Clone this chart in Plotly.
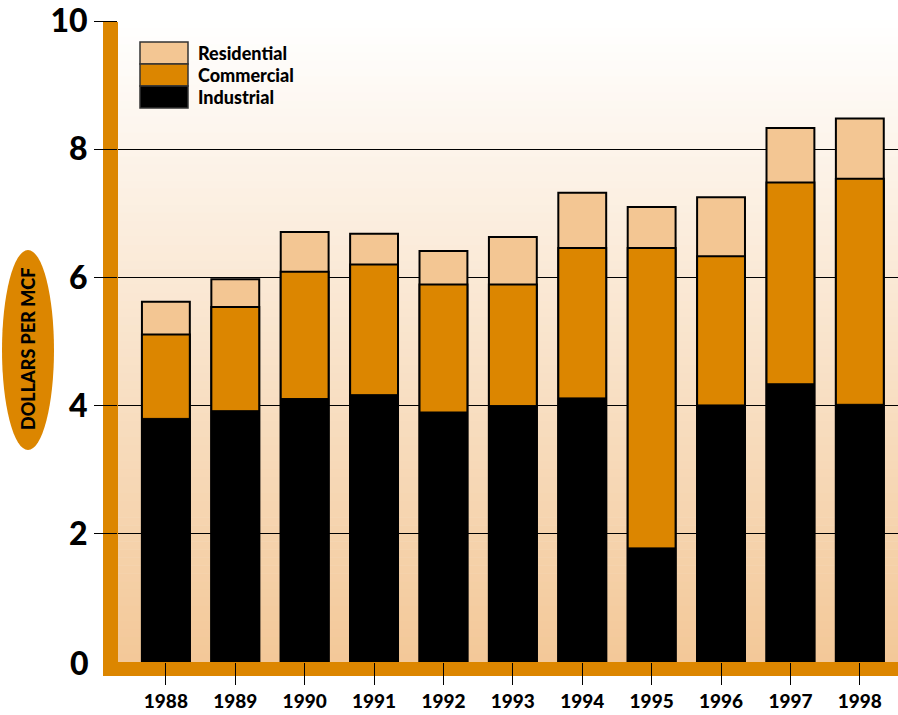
import plotly.graph_objects as go

years = ["1988", "1989", "1990", "1991", "1992", "1993", "1994", "1995", "1996", "1997", "1998"]
residential = [5.62, 5.97, 6.71, 6.68, 6.41, 6.63, 7.32, 7.10, 7.25, 8.33, 8.48]
commercial = [5.11, 5.54, 6.09, 6.20, 5.89, 5.89, 6.46, 6.46, 6.33, 7.48, 7.54]
industrial = [3.80, 3.92, 4.11, 4.17, 3.90, 4.00, 4.12, 1.78, 4.01, 4.34, 4.02]
y_ticks = [2, 4, 6, 8, 10]

ORANGE = "#DC8600"
PEACH = "#F3C693"
FONT = "Lato"
WEIGHT = 900

W, H = 898, 715
L, R, T, B = 118, 0, 21, 53
PW, PH = W - L - R, H - T - B

def px_x(px):
    return (px - L) / PW

def px_y(py):
    return 1 - (py - T) / PH

fig = go.Figure()
bar_w = 0.69
fig.add_trace(go.Bar(x=years, y=residential, name="Residential", width=bar_w,
                     marker=dict(color=PEACH, line=dict(color="black", width=2))))
fig.add_trace(go.Bar(x=years, y=commercial, name="Commercial", width=bar_w,
                     marker=dict(color=ORANGE, line=dict(color="black", width=2))))
fig.add_trace(go.Bar(x=years, y=industrial, name="Industrial", width=bar_w,
                     marker=dict(color="black", line=dict(color="black", width=1))))

shapes = []
# gradient background bands
n = 80
top = (255, 255, 255)
bot = (243, 200, 152)
for i in range(n):
    f = (i + 0.5) / n
    c = tuple(round(top[k] + (bot[k] - top[k]) * f) for k in range(3))
    shapes.append(dict(type="rect", xref="paper", yref="paper", x0=0, x1=1,
                       y0=1 - (i + 1) / n, y1=1 - i / n + 0.001,
                       fillcolor="rgb(%d,%d,%d)" % c, line=dict(width=0), layer="below"))
# orange L frame
shapes.append(dict(type="rect", xref="paper", yref="paper", x0=px_x(103), x1=0,
                   y0=px_y(676), y1=px_y(22), fillcolor=ORANGE, line=dict(width=0), layer="below"))
shapes.append(dict(type="rect", xref="paper", yref="paper", x0=px_x(103), x1=1,
                   y0=px_y(676), y1=0, fillcolor=ORANGE, line=dict(width=0), layer="below"))
# y title ellipse
shapes.append(dict(type="circle", xref="paper", yref="paper", x0=px_x(2), x1=px_x(54),
                   y0=px_y(450), y1=px_y(250), fillcolor=ORANGE, line=dict(width=0), layer="above"))
# legend swatches
leg_names = ["Residential", "Commercial", "Industrial"]
leg_colors = [PEACH, ORANGE, "black"]
rows = [(42, 64), (64, 86), (86, 108)]
for (a, b), col in zip(rows, leg_colors):
    shapes.append(dict(type="rect", xref="paper", yref="paper", x0=px_x(140), x1=px_x(188),
                       y0=px_y(b), y1=px_y(a), fillcolor=col,
                       line=dict(color="#333333", width=1.5), layer="above"))

annotations = []
for (a, b), name in zip(rows, leg_names):
    annotations.append(dict(xref="paper", yref="paper", x=px_x(196), y=px_y((a + b) / 2),
                            text=name, showarrow=False, xanchor="left", yanchor="middle",
                            font=dict(family=FONT, size=18, color="black", weight=WEIGHT)))
annotations.append(dict(xref="paper", yref="paper", x=px_x(28), y=px_y(349),
                        text="DOLLARS PER MCF", textangle=-90, showarrow=False,
                        xanchor="center", yanchor="middle",
                        font=dict(family=FONT, size=18, color="black", weight=WEIGHT)))
annotations.append(dict(xref="paper", yref="y", x=px_x(91), y=0, text="0",
                        showarrow=False, xanchor="right", yanchor="middle",
                        font=dict(family=FONT, size=32, color="black", weight=WEIGHT)))

fig.update_layout(
    width=W, height=H,
    margin=dict(l=L, r=R, t=T, b=B, pad=0),
    barmode="overlay",
    showlegend=False,
    paper_bgcolor="white",
    plot_bgcolor="rgba(0,0,0,0)",
    shapes=shapes,
    annotations=annotations,
    xaxis=dict(range=[-0.69, 10.55], showgrid=False, zeroline=False, showline=False,
               ticks="outside", ticklen=22, tickcolor="black", tickwidth=1,
               tickfont=dict(family=FONT, size=19, color="black", weight=WEIGHT),
               fixedrange=True),
    yaxis=dict(range=[0, 10], tickvals=y_ticks, showgrid=True, gridcolor="black", gridwidth=1,
               zeroline=False, showline=False, ticks="outside", ticklen=23, tickcolor="black",
               tickwidth=1, tickfont=dict(family=FONT, size=32, color="black", weight=WEIGHT),
               fixedrange=True),
)

fig.write_html("out.html")
